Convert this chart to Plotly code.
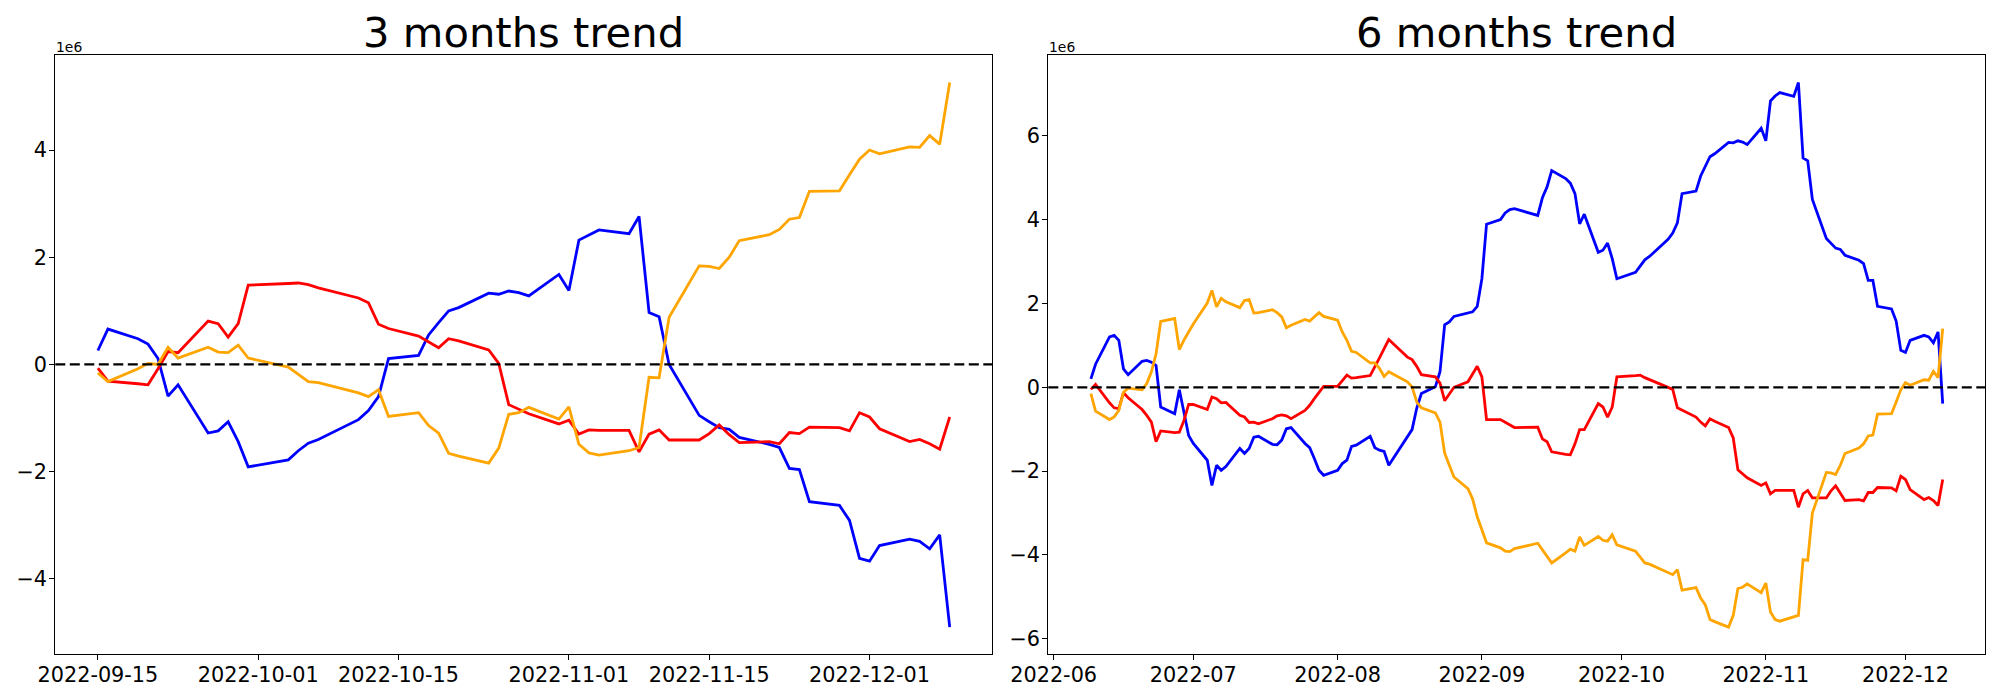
import plotly.graph_objects as go
import pandas as pd

# ---------------- data: 3 months (values in units of 1e6) ----------------
dates_3m = [
    "2022-09-15", "2022-09-16", "2022-09-19", "2022-09-20", "2022-09-21", "2022-09-22", "2022-09-23",
    "2022-09-26", "2022-09-27", "2022-09-28", "2022-09-29", "2022-09-30",
    "2022-10-04", "2022-10-05", "2022-10-06", "2022-10-07", "2022-10-11", "2022-10-12", "2022-10-13",
    "2022-10-14", "2022-10-17", "2022-10-18", "2022-10-19", "2022-10-20", "2022-10-21", "2022-10-24",
    "2022-10-25", "2022-10-26", "2022-10-27", "2022-10-28", "2022-10-31",
    "2022-11-01", "2022-11-02", "2022-11-03", "2022-11-04", "2022-11-07", "2022-11-08", "2022-11-09",
    "2022-11-10", "2022-11-11", "2022-11-14", "2022-11-15", "2022-11-16", "2022-11-17", "2022-11-18",
    "2022-11-21", "2022-11-22", "2022-11-23", "2022-11-24", "2022-11-25", "2022-11-28", "2022-11-29",
    "2022-11-30",
    "2022-12-01", "2022-12-02", "2022-12-05", "2022-12-06", "2022-12-07", "2022-12-08", "2022-12-09",
]
blue_3m = [
    0.26, 0.66, 0.48, 0.38, 0.11, -0.59, -0.38, -1.28, -1.24, -1.07, -1.44, -1.91,
    -1.78, -1.61, -1.47, -1.40, -1.03, -0.86, -0.60, 0.11, 0.17, 0.55, 0.78, 1.00, 1.06, 1.33,
    1.31, 1.37, 1.34, 1.28, 1.68,
    1.38, 2.32, 2.42, 2.51, 2.44, 2.76, 0.97, 0.89, 0.00, -0.95, -1.07, -1.18, -1.21, -1.36,
    -1.49, -1.55, -1.94, -1.96, -2.56, -2.63, -2.91, -3.62,
    -3.67, -3.38, -3.26, -3.30, -3.44, -3.18, -4.90,
]
red_3m = [
    -0.07, -0.31, -0.36, -0.38, -0.08, 0.24, 0.22, 0.81, 0.76, 0.51, 0.76, 1.48,
    1.51, 1.52, 1.49, 1.43, 1.24, 1.15, 0.75, 0.67, 0.53, 0.42, 0.31, 0.48, 0.44, 0.27,
    0.02, -0.75, -0.83, -0.92, -1.11,
    -1.04, -1.30, -1.22, -1.23, -1.23, -1.63, -1.30, -1.22, -1.41, -1.41, -1.29, -1.13, -1.31, -1.46,
    -1.44, -1.48, -1.27, -1.29, -1.17, -1.18, -1.24, -0.90,
    -0.98, -1.20, -1.44, -1.40, -1.48, -1.58, -0.98,
]
orange_3m = [
    -0.16, -0.32, -0.08, 0.02, 0.00, 0.32, 0.12, 0.32, 0.23, 0.22, 0.36, 0.12,
    -0.05, -0.18, -0.32, -0.34, -0.53, -0.60, -0.47, -0.97, -0.90, -1.14, -1.28, -1.66, -1.71, -1.84,
    -1.56, -0.93, -0.90, -0.80, -1.02,
    -0.79, -1.49, -1.65, -1.69, -1.61, -1.55, -0.24, -0.25, 0.88, 1.84, 1.83, 1.79, 2.00, 2.31,
    2.42, 2.52, 2.71, 2.74, 3.23, 3.24, 3.54, 3.83,
    4.00, 3.93, 4.06, 4.05, 4.27, 4.11, 5.26,
]

# ---------------- data: 6 months (values in units of 1e6) ----------------
dates_6m = [
    # June
    "2022-06-09", "2022-06-10", "2022-06-13", "2022-06-14", "2022-06-15", "2022-06-16", "2022-06-17",
    "2022-06-20", "2022-06-21", "2022-06-22", "2022-06-23", "2022-06-24", "2022-06-27", "2022-06-28",
    "2022-06-29", "2022-06-30",
    # July
    "2022-07-01", "2022-07-04", "2022-07-05", "2022-07-06", "2022-07-07", "2022-07-08", "2022-07-11",
    "2022-07-12", "2022-07-13", "2022-07-14", "2022-07-15", "2022-07-18", "2022-07-19", "2022-07-20",
    "2022-07-21", "2022-07-22", "2022-07-25", "2022-07-26", "2022-07-27", "2022-07-28", "2022-07-29",
    # August
    "2022-08-01", "2022-08-02", "2022-08-03", "2022-08-04", "2022-08-05", "2022-08-08", "2022-08-09",
    "2022-08-10", "2022-08-11", "2022-08-12", "2022-08-16", "2022-08-17", "2022-08-18", "2022-08-19",
    "2022-08-22", "2022-08-23", "2022-08-24", "2022-08-25", "2022-08-26", "2022-08-29", "2022-08-30",
    "2022-08-31",
    # September
    "2022-09-01", "2022-09-02", "2022-09-05", "2022-09-06", "2022-09-07", "2022-09-08", "2022-09-13",
    "2022-09-14", "2022-09-15", "2022-09-16", "2022-09-19", "2022-09-20", "2022-09-21", "2022-09-22",
    "2022-09-23", "2022-09-26", "2022-09-27", "2022-09-28", "2022-09-29", "2022-09-30",
    # October
    "2022-10-04", "2022-10-05", "2022-10-06", "2022-10-07", "2022-10-11", "2022-10-12", "2022-10-13",
    "2022-10-14", "2022-10-17", "2022-10-18", "2022-10-19", "2022-10-20", "2022-10-21", "2022-10-24",
    "2022-10-25", "2022-10-26", "2022-10-27", "2022-10-28", "2022-10-31",
    # November
    "2022-11-01", "2022-11-02", "2022-11-03", "2022-11-04", "2022-11-07", "2022-11-08", "2022-11-09",
    "2022-11-10", "2022-11-11", "2022-11-14", "2022-11-15", "2022-11-16", "2022-11-17", "2022-11-18",
    "2022-11-21", "2022-11-22", "2022-11-23", "2022-11-24", "2022-11-25", "2022-11-28", "2022-11-29",
    "2022-11-30",
    # December
    "2022-12-01", "2022-12-02", "2022-12-05", "2022-12-06", "2022-12-07", "2022-12-08", "2022-12-09",
]
blue_6m = [
    0.20, 0.55, 1.20, 1.24, 1.12, 0.44, 0.30, 0.62, 0.64, 0.60, 0.52, -0.47, -0.63, -0.06, -0.60, -1.15,
    -1.34, -1.74, -2.34, -1.86, -1.98, -1.89, -1.46, -1.58, -1.46, -1.19, -1.17, -1.36, -1.37, -1.26,
    -0.99, -0.96, -1.34, -1.44, -1.70, -1.98, -2.10,
    -1.98, -1.82, -1.74, -1.41, -1.38, -1.17, -1.44, -1.50, -1.53, -1.86, -1.18, -1.01, -0.50, -0.15,
    0.01, 0.37, 1.49, 1.56, 1.69, 1.77, 1.80, 1.93,
    2.59, 3.89, 4.00, 4.16, 4.24, 4.26, 4.10, 4.52, 4.78, 5.17, 4.98, 4.87, 4.62, 3.90, 4.13, 3.22,
    3.27, 3.44, 3.07, 2.59,
    2.74, 2.89, 3.04, 3.12, 3.53, 3.68, 3.92, 4.62, 4.68, 5.04, 5.27, 5.50, 5.57, 5.84, 5.83, 5.88,
    5.85, 5.79, 6.18,
    5.88, 6.83, 6.95, 7.03, 6.94, 7.27, 5.47, 5.40, 4.48, 3.55, 3.43, 3.32, 3.29, 3.15, 3.03, 2.95,
    2.55, 2.55, 1.93, 1.87, 1.58, 0.88,
    0.83, 1.12, 1.24, 1.20, 1.06, 1.32, -0.39,
]
red_6m = [
    -0.05, 0.07, -0.37, -0.49, -0.51, -0.13, -0.25, -0.53, -0.67, -0.83, -1.30, -1.04, -1.08, -1.07,
    -0.79, -0.41,
    -0.41, -0.53, -0.23, -0.27, -0.37, -0.36, -0.67, -0.71, -0.84, -0.83, -0.87, -0.75, -0.68, -0.66,
    -0.68, -0.75, -0.55, -0.43, -0.27, -0.13, 0.02,
    0.02, 0.17, 0.29, 0.22, 0.23, 0.28, 0.48, 0.70, 0.92, 1.14, 0.72, 0.66, 0.50, 0.30, 0.25, 0.10,
    -0.32, -0.15, 0.00, 0.13, 0.30, 0.50,
    0.25, -0.77, -0.77, -0.83, -0.89, -0.96, -0.95, -1.23, -1.30, -1.54, -1.60, -1.61, -1.35, -1.01,
    -1.01, -0.39, -0.47, -0.71, -0.47, 0.25,
    0.28, 0.29, 0.23, 0.18, 0.00, -0.05, -0.49, -0.55, -0.71, -0.83, -0.92, -0.75, -0.81, -0.96,
    -1.21, -1.97, -2.06, -2.16, -2.34,
    -2.28, -2.54, -2.46, -2.46, -2.46, -2.86, -2.54, -2.46, -2.64, -2.64, -2.47, -2.35, -2.54, -2.70,
    -2.68, -2.71, -2.51, -2.51, -2.39, -2.40, -2.47, -2.12,
    -2.20, -2.44, -2.68, -2.63, -2.70, -2.82, -2.20,
]
orange_6m = [
    -0.15, -0.57, -0.77, -0.71, -0.55, -0.12, -0.02, -0.06, 0.09, 0.37, 0.80, 1.57, 1.64, 0.90, 1.13, 1.32,
    1.51, 2.01, 2.31, 1.92, 2.12, 2.04, 1.90, 2.07, 2.09, 1.77, 1.78, 1.85, 1.78, 1.68, 1.42, 1.48,
    1.62, 1.58, 1.68, 1.78, 1.69,
    1.60, 1.32, 1.12, 0.86, 0.83, 0.58, 0.58, 0.45, 0.26, 0.37, 0.13, 0.01, -0.35, -0.49, -0.61, -0.83,
    -1.57, -1.86, -2.14, -2.42, -2.66, -3.09,
    -3.41, -3.71, -3.83, -3.91, -3.92, -3.85, -3.72, -3.87, -4.03, -4.19, -3.95, -3.86, -3.91, -3.57,
    -3.77, -3.56, -3.65, -3.67, -3.52, -3.76,
    -3.91, -4.05, -4.19, -4.22, -4.42, -4.47, -4.35, -4.84, -4.78, -5.03, -5.19, -5.54, -5.59, -5.72,
    -5.44, -4.80, -4.77, -4.69, -4.90,
    -4.67, -5.36, -5.54, -5.58, -5.48, -5.44, -4.11, -4.13, -3.00, -2.03, -2.04, -2.08, -1.86, -1.58,
    -1.45, -1.35, -1.16, -1.14, -0.64, -0.63, -0.35, -0.06,
    0.11, 0.05, 0.18, 0.17, 0.38, 0.23, 1.40,
]

titles = ["3 months trend", "6 months trend"]
xtick_3m = ["2022-09-15", "2022-10-01", "2022-10-15", "2022-11-01", "2022-11-15", "2022-12-01"]
xtick_6m = ["2022-06-01", "2022-07-01", "2022-08-01", "2022-09-01", "2022-10-01", "2022-11-01", "2022-12-01"]
xticklabel_6m = ["2022-06", "2022-07", "2022-08", "2022-09", "2022-10", "2022-11", "2022-12"]
ytick_3m = [-4, -2, 0, 2, 4]
ytick_6m = [-6, -4, -2, 0, 2, 4, 6]
offset_label = "1e6"

# ---------------- layout helpers ----------------
W, H = 2000, 700
FONT = "DejaVu Sans"
TICK_PX = 20.8
COLORS = {"blue": "#0000ff", "red": "#ff0000", "orange": "#ffa500"}
LW = 2.8

axes_px = [(55.3, 992.3), (1048.3, 1985.3)]
top_px, bot_px = 55.3, 654.3
ydom = [1 - bot_px / H, 1 - top_px / H]


def margin_range(vals, frac=0.05):
    lo, hi = min(vals), max(vals)
    pad = (hi - lo) * frac
    return [lo - pad, hi + pad]


def date_range(dates, frac=0.05):
    d = pd.to_datetime(dates)
    lo, hi = d.min(), d.max()
    pad = (hi - lo) * frac
    return [(lo - pad).strftime("%Y-%m-%d %H:%M:%S"), (hi + pad).strftime("%Y-%m-%d %H:%M:%S")]


def minus(v):
    return str(v).replace("-", "\u2212")


fig = go.Figure()

panels = [
    (dates_3m, blue_3m, red_3m, orange_3m, xtick_3m, xtick_3m, ytick_3m),
    (dates_6m, blue_6m, red_6m, orange_6m, xtick_6m, xticklabel_6m, ytick_6m),
]

layout = dict(
    width=W, height=H,
    margin=dict(l=0, r=0, t=0, b=0, autoexpand=False),
    paper_bgcolor="white", plot_bgcolor="white",
    showlegend=False,
    font=dict(family=FONT, color="black", size=TICK_PX),
)

shapes = []
annotations = []

for i, (dts, b, r, o, tv, tt, yt) in enumerate(panels):
    n = "" if i == 0 else str(i + 1)
    xa, ya = "x" + n, "y" + n
    for vals, cname in ((b, "blue"), (r, "red"), (o, "orange")):
        fig.add_trace(go.Scatter(
            x=dts, y=vals, mode="lines", xaxis=xa, yaxis=ya,
            line=dict(color=COLORS[cname], width=LW),
            hoverinfo="skip",
        ))
    x0, x1 = axes_px[i]
    common = dict(
        showline=True, linecolor="black", linewidth=1.1, mirror=True,
        ticks="outside", ticklen=5, tickwidth=1.1, tickcolor="black",
        showgrid=False, zeroline=False, automargin=False,
        tickfont=dict(family=FONT, size=TICK_PX, color="black"),
    )
    layout["xaxis" + n] = dict(
        domain=[x0 / W, x1 / W], anchor=ya, type="date",
        range=date_range(dts), tickmode="array", tickvals=tv, ticktext=tt,
        ticklabelstandoff=-3,
        **common,
    )
    layout["yaxis" + n] = dict(
        domain=ydom, anchor=xa, range=margin_range(b + r + o),
        tickmode="array", tickvals=yt, ticktext=[minus(v) for v in yt],
        ticklabelstandoff=-2,
        **common,
    )
    shapes.append(dict(
        type="line", xref=xa + " domain", yref=ya, x0=0, x1=1, y0=0, y1=0,
        line=dict(color="black", width=2.2, dash="10px,4.5px"), layer="above",
    ))
    annotations.append(dict(
        text=titles[i], xref="paper", yref="paper",
        x=(x0 + x1) / 2 / W, y=1 - 32.6 / H, xanchor="center", yanchor="middle",
        showarrow=False, font=dict(family=FONT, size=41.7, color="black"),
    ))
    annotations.append(dict(
        text=offset_label, xref="paper", yref="paper",
        x=(x0 - 1) / W, y=1 - 46.9 / H, xanchor="left", yanchor="middle",
        showarrow=False, font=dict(family=FONT, size=13.9, color="black"),
    ))

layout["shapes"] = shapes
layout["annotations"] = annotations
fig.update_layout(**layout)

fig.write_html(
    "out.html",
    config={"displayModeBar": False},
    post_script="document.body.style.margin='0px';document.body.style.overflow='hidden';",
)
